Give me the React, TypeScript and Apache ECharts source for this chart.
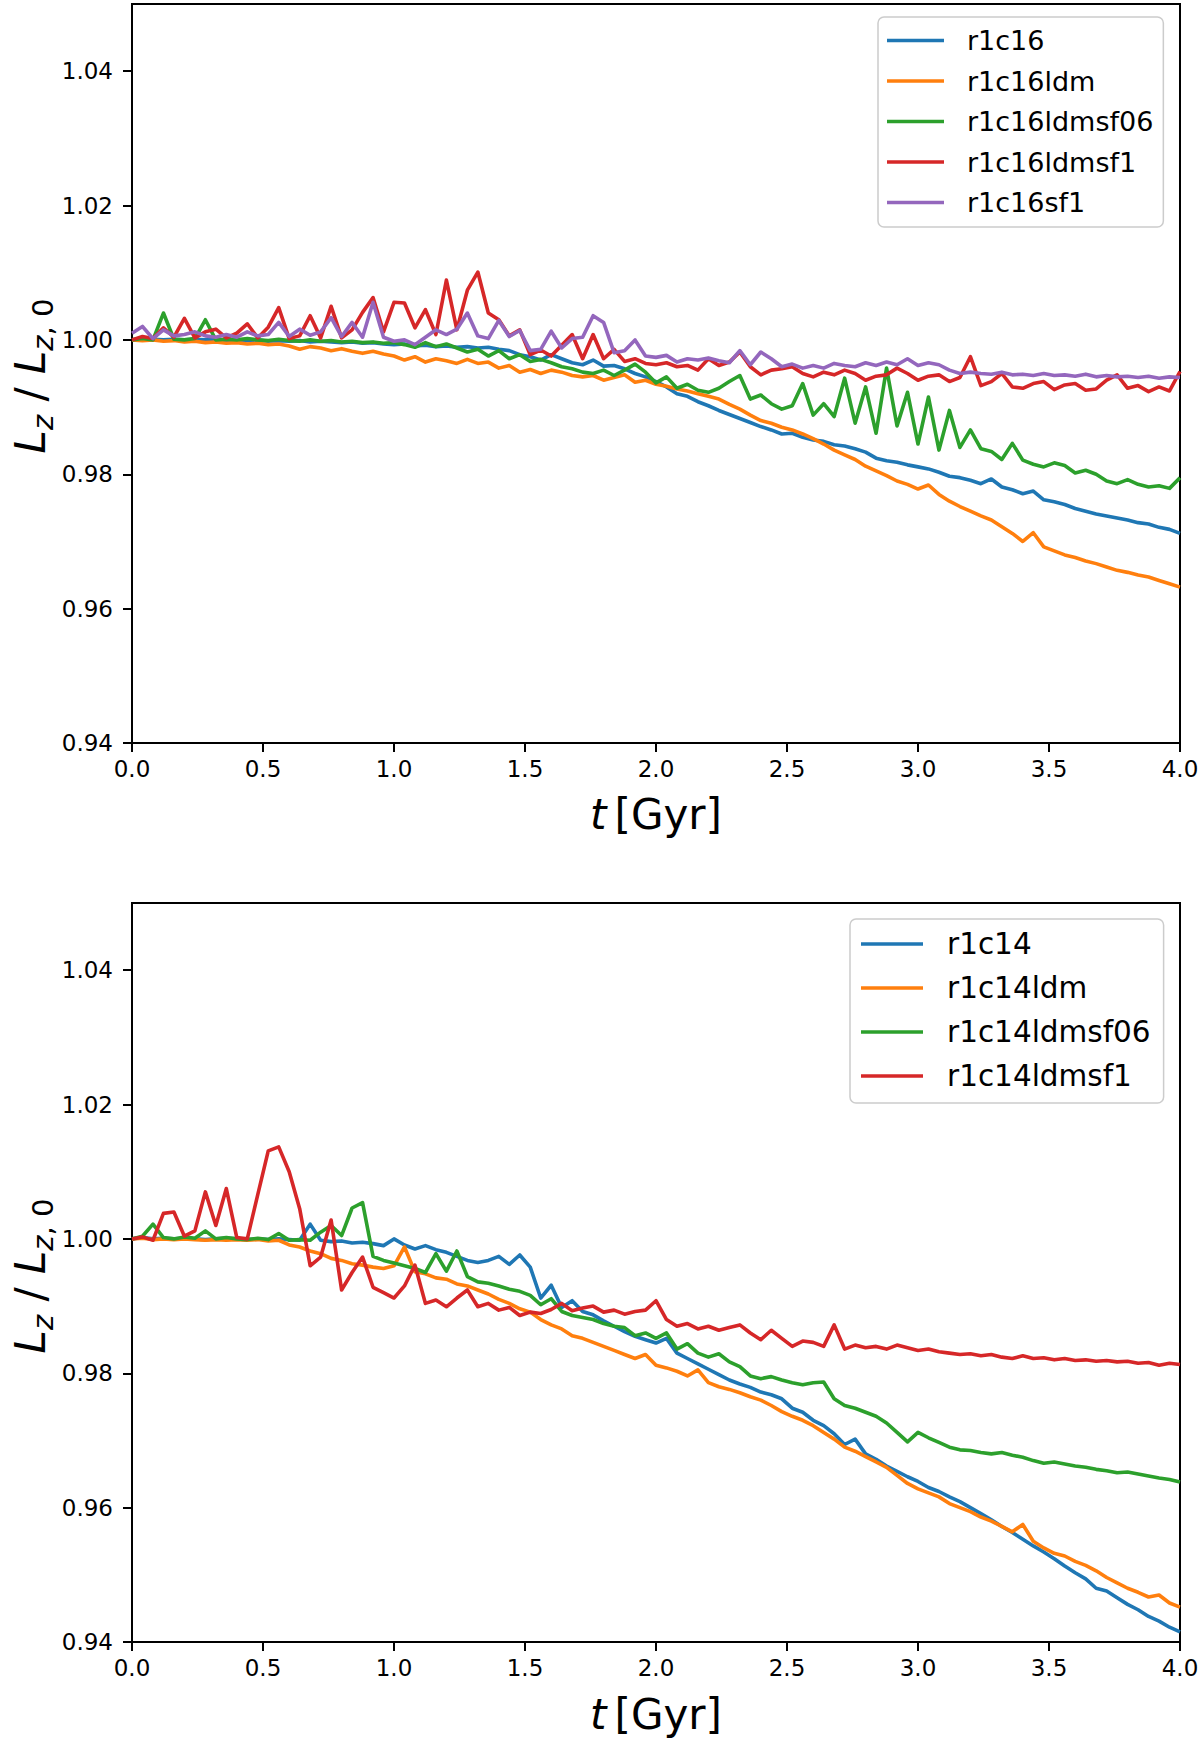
import React, { useEffect, useRef } from "react";
import * as echarts from "echarts";

const FONT = "DejaVu Sans";
const COLORS = ["#1f77b4", "#ff7f0e", "#2ca02c", "#d62728", "#9467bd"];

// sampling grid: t = 0, 0.04, ..., 4.00 Gyr
const TIMES: number[] = Array.from({ length: 101 }, (_, i) => Math.round(i * 4) / 100);

const X_TICKS = [0, 0.5, 1, 1.5, 2, 2.5, 3, 3.5, 4];
const Y_TICKS = [0.94, 0.96, 0.98, 1.0, 1.02, 1.04];

const TOP_NAMES = ["r1c16", "r1c16ldm", "r1c16ldmsf06", "r1c16ldmsf1", "r1c16sf1"];
const BOTTOM_NAMES = ["r1c14", "r1c14ldm", "r1c14ldmsf06", "r1c14ldmsf1"];

const r1c16 = [
  1.0000, 1.0002, 1.0001, 1.0000, 1.0001, 1.0000, 1.0001, 1.0000, 1.0000, 0.9999,
  1.0000, 0.9999, 1.0000, 0.9998, 0.9999, 0.9998, 0.9999, 0.9997, 0.9998, 0.9997,
  0.9996, 0.9997, 0.9995, 0.9996, 0.9994, 0.9993, 0.9994, 0.9991, 0.9992, 0.9990,
  0.9991, 0.9989, 0.9990, 0.9988, 0.9989, 0.9986, 0.9984, 0.9978, 0.9975, 0.9970,
  0.9978, 0.9972, 0.9966, 0.9963, 0.9970, 0.9961, 0.9962, 0.9957, 0.9950, 0.9945,
  0.9938, 0.9930, 0.9920, 0.9916, 0.9908, 0.9902, 0.9895, 0.9889, 0.9883, 0.9877,
  0.9871, 0.9866, 0.9860, 0.9861, 0.9855, 0.9851, 0.9849, 0.9844, 0.9842, 0.9838,
  0.9833, 0.9824, 0.9820, 0.9818, 0.9814, 0.9811, 0.9808, 0.9803, 0.9797, 0.9795,
  0.9791, 0.9786, 0.9793, 0.9781, 0.9777, 0.9771, 0.9775, 0.9762, 0.9759, 0.9755,
  0.9749, 0.9745, 0.9741, 0.9738, 0.9735, 0.9732, 0.9728, 0.9726, 0.9721, 0.9718,
  0.9712,
];
const r1c16ldm = [
  1.0000, 0.9999, 1.0000, 0.9998, 0.9999, 0.9997, 0.9998, 0.9996, 0.9997, 0.9995,
  0.9996, 0.9994, 0.9995, 0.9993, 0.9994, 0.9991, 0.9986, 0.9990, 0.9988, 0.9984,
  0.9987, 0.9983, 0.9980, 0.9983, 0.9979, 0.9976, 0.9970, 0.9975, 0.9967, 0.9972,
  0.9969, 0.9965, 0.9971, 0.9965, 0.9967, 0.9958, 0.9962, 0.9952, 0.9956, 0.9950,
  0.9955, 0.9952, 0.9947, 0.9945, 0.9947, 0.9940, 0.9944, 0.9948, 0.9937, 0.9940,
  0.9934, 0.9931, 0.9927, 0.9924, 0.9920, 0.9916, 0.9912, 0.9904, 0.9897, 0.9888,
  0.9880, 0.9876, 0.9870, 0.9866, 0.9860, 0.9853, 0.9845, 0.9836, 0.9829, 0.9822,
  0.9812, 0.9805, 0.9798, 0.9790, 0.9785, 0.9778, 0.9784, 0.9770, 0.9760, 0.9752,
  0.9745, 0.9738, 0.9732, 0.9722, 0.9712, 0.9700, 0.9713, 0.9692, 0.9686, 0.9680,
  0.9676, 0.9671, 0.9667, 0.9662, 0.9657, 0.9654, 0.9650, 0.9647, 0.9642, 0.9637,
  0.9632,
];
const r1c16ldmsf06 = [
  1.0000, 1.0002, 1.0000, 1.0040, 1.0001, 1.0000, 1.0002, 1.0030, 1.0000, 1.0001,
  1.0000, 1.0002, 1.0000, 0.9999, 1.0001, 0.9999, 0.9998, 1.0000, 0.9998, 0.9999,
  0.9997, 0.9998, 0.9996, 0.9997, 0.9995, 0.9996, 0.9993, 0.9989, 0.9996, 0.9990,
  0.9994, 0.9988, 0.9982, 0.9986, 0.9976, 0.9984, 0.9972, 0.9978, 0.9968, 0.9971,
  0.9966, 0.9960, 0.9957, 0.9952, 0.9950, 0.9955, 0.9947, 0.9955, 0.9964, 0.9952,
  0.9936, 0.9945, 0.9928, 0.9934, 0.9925, 0.9922, 0.9928, 0.9938, 0.9947, 0.9912,
  0.9918, 0.9905, 0.9897, 0.9902, 0.9935, 0.9888, 0.9905, 0.9886, 0.9943, 0.9876,
  0.9930, 0.9861, 0.9958, 0.9872, 0.9922, 0.9845, 0.9915, 0.9836, 0.9895, 0.9840,
  0.9866, 0.9838, 0.9834, 0.9822, 0.9846, 0.9821, 0.9815, 0.9811, 0.9817, 0.9813,
  0.9802, 0.9806, 0.9800, 0.9790, 0.9786, 0.9792, 0.9785, 0.9781, 0.9783, 0.9779,
  0.9795,
];
const r1c16ldmsf1 = [
  1.0000, 1.0005, 1.0002, 1.0018, 1.0004, 1.0032, 1.0003, 1.0012, 1.0016, 1.0003,
  1.0010, 1.0024, 1.0003, 1.0019, 1.0048, 1.0002, 1.0006, 1.0036, 1.0003, 1.0050,
  1.0003, 1.0015, 1.0041, 1.0063, 1.0012, 1.0056, 1.0055, 1.0018, 1.0045, 1.0008,
  1.0089, 1.0015, 1.0074, 1.0101, 1.0040, 1.0030, 1.0006, 1.0015, 0.9978, 0.9985,
  0.9976, 0.9992, 1.0008, 0.9972, 1.0008, 0.9972, 0.9986, 0.9968, 0.9972, 0.9965,
  0.9963, 0.9966, 0.9960, 0.9962, 0.9955, 0.9972, 0.9962, 0.9967, 0.9982, 0.9960,
  0.9948, 0.9955, 0.9957, 0.9960, 0.9950, 0.9945, 0.9952, 0.9948, 0.9955, 0.9950,
  0.9940, 0.9946, 0.9948, 0.9958, 0.9950, 0.9940, 0.9946, 0.9948, 0.9938, 0.9944,
  0.9975, 0.9932, 0.9938, 0.9950, 0.9930, 0.9928, 0.9935, 0.9938, 0.9926, 0.9933,
  0.9935, 0.9925, 0.9927, 0.9940, 0.9948, 0.9928, 0.9932, 0.9923, 0.9930, 0.9924,
  0.9953,
];
const r1c16sf1 = [
  1.0010, 1.0020, 1.0002, 1.0015, 1.0006, 1.0008, 1.0012, 1.0006, 1.0004, 1.0008,
  1.0004, 1.0012, 1.0006, 1.0008, 1.0026, 1.0005, 1.0016, 1.0007, 1.0012, 1.0033,
  1.0005, 1.0026, 1.0004, 1.0056, 1.0004, 0.9998, 1.0000, 0.9993, 1.0004, 1.0015,
  1.0008, 1.0016, 1.0040, 1.0006, 1.0002, 1.0029, 1.0005, 1.0014, 0.9984, 0.9986,
  1.0013, 0.9988, 1.0002, 1.0004, 1.0036, 1.0026, 0.9981, 0.9984, 1.0000, 0.9976,
  0.9974, 0.9977, 0.9967, 0.9972, 0.9970, 0.9973, 0.9969, 0.9966, 0.9984, 0.9963,
  0.9982, 0.9972, 0.9960, 0.9964, 0.9958, 0.9962, 0.9958, 0.9965, 0.9962, 0.9960,
  0.9966, 0.9962, 0.9967, 0.9963, 0.9972, 0.9962, 0.9966, 0.9963, 0.9955, 0.9950,
  0.9952, 0.9950, 0.9949, 0.9952, 0.9948, 0.9949, 0.9947, 0.9950, 0.9947, 0.9948,
  0.9946, 0.9949, 0.9945, 0.9947, 0.9945, 0.9946, 0.9944, 0.9946, 0.9943, 0.9945,
  0.9944,
];

const r1c14 = [
  1.0000, 1.0002, 1.0000, 1.0001, 1.0000, 1.0001, 1.0000, 0.9999, 1.0000, 1.0001,
  1.0000, 0.9999, 1.0000, 0.9999, 1.0000, 0.9999, 0.9998, 1.0022, 0.9998, 0.9996,
  0.9997, 0.9994, 0.9995, 0.9993, 0.9990, 1.0000, 0.9991, 0.9985, 0.9990, 0.9984,
  0.9980, 0.9974, 0.9968, 0.9965, 0.9968, 0.9974, 0.9962, 0.9976, 0.9958, 0.9912,
  0.9931, 0.9898, 0.9908, 0.9892, 0.9887, 0.9878, 0.9870, 0.9862, 0.9855, 0.9850,
  0.9845, 0.9852, 0.9830, 0.9822, 0.9814, 0.9806, 0.9798, 0.9790, 0.9784, 0.9779,
  0.9772, 0.9768, 0.9762, 0.9748, 0.9742, 0.9730, 0.9722, 0.9710, 0.9694, 0.9702,
  0.9680, 0.9672, 0.9662, 0.9654, 0.9646, 0.9639, 0.9630, 0.9624, 0.9616, 0.9609,
  0.9600, 0.9591, 0.9582, 0.9572, 0.9563, 0.9553, 0.9543, 0.9534, 0.9524, 0.9513,
  0.9503, 0.9494, 0.9480, 0.9476, 0.9466, 0.9456, 0.9448, 0.9438, 0.9431, 0.9422,
  0.9415,
];
const r1c14ldm = [
  1.0000, 1.0001, 0.9999, 1.0000, 0.9999, 1.0000, 0.9999, 0.9998, 0.9999, 0.9998,
  0.9999, 0.9998, 0.9999, 0.9997, 0.9998, 0.9991, 0.9988, 0.9982, 0.9978, 0.9971,
  0.9968, 0.9963, 0.9961, 0.9958, 0.9956, 0.9960, 0.9988, 0.9951, 0.9948, 0.9942,
  0.9940, 0.9933, 0.9930, 0.9924, 0.9918, 0.9910, 0.9904, 0.9896, 0.9891, 0.9880,
  0.9872, 0.9866, 0.9856, 0.9852, 0.9846, 0.9840, 0.9834, 0.9828, 0.9822, 0.9828,
  0.9812, 0.9808, 0.9803, 0.9796, 0.9805, 0.9786, 0.9780, 0.9776, 0.9771, 0.9765,
  0.9760, 0.9752, 0.9743, 0.9736, 0.9730, 0.9722, 0.9712, 0.9702, 0.9690, 0.9684,
  0.9676, 0.9668, 0.9660, 0.9648, 0.9636, 0.9628, 0.9622, 0.9616, 0.9606, 0.9600,
  0.9594, 0.9586, 0.9580, 0.9572, 0.9564, 0.9575, 0.9550, 0.9540, 0.9532, 0.9528,
  0.9520, 0.9514, 0.9506, 0.9496, 0.9488, 0.9480, 0.9474, 0.9467, 0.9470, 0.9458,
  0.9452,
];
const r1c14ldmsf06 = [
  1.0000, 1.0004, 1.0022, 1.0002, 1.0000, 1.0003, 1.0001, 1.0012, 1.0000, 1.0002,
  1.0000, 0.9999, 1.0001, 0.9999, 1.0008, 0.9998, 0.9999, 0.9998, 1.0010, 1.0020,
  1.0005, 1.0046, 1.0054, 0.9974, 0.9968, 0.9964, 0.9960, 0.9956, 0.9950, 0.9978,
  0.9952, 0.9982, 0.9944, 0.9936, 0.9934, 0.9930, 0.9925, 0.9922, 0.9916, 0.9902,
  0.9911, 0.9892, 0.9886, 0.9883, 0.9880, 0.9874, 0.9870, 0.9868, 0.9856, 0.9860,
  0.9852, 0.9860, 0.9836, 0.9844, 0.9830, 0.9824, 0.9829, 0.9817, 0.9810, 0.9796,
  0.9792, 0.9795, 0.9790, 0.9786, 0.9783, 0.9786, 0.9787, 0.9762, 0.9752, 0.9748,
  0.9742, 0.9736, 0.9726, 0.9712, 0.9698, 0.9712, 0.9704, 0.9697, 0.9690, 0.9686,
  0.9685, 0.9682, 0.9680, 0.9682, 0.9678, 0.9675, 0.9670, 0.9666, 0.9668, 0.9665,
  0.9662, 0.9660, 0.9657, 0.9655, 0.9652, 0.9653, 0.9650, 0.9647, 0.9644, 0.9642,
  0.9638,
];
const r1c14ldmsf1 = [
  1.0000, 1.0003, 0.9998, 1.0038, 1.0040, 1.0004, 1.0012, 1.0070, 1.0020, 1.0075,
  1.0002, 1.0000, 1.0066, 1.0131, 1.0137, 1.0100, 1.0045, 0.9960, 0.9973, 1.0028,
  0.9924, 0.9950, 0.9973, 0.9928, 0.9920, 0.9912, 0.9930, 0.9961, 0.9904, 0.9909,
  0.9899, 0.9912, 0.9924, 0.9899, 0.9904, 0.9894, 0.9898, 0.9886, 0.9891, 0.9889,
  0.9895, 0.9904, 0.9893, 0.9897, 0.9900, 0.9891, 0.9894, 0.9888, 0.9892, 0.9894,
  0.9908, 0.9880, 0.9870, 0.9874, 0.9866, 0.9870, 0.9864, 0.9868, 0.9872, 0.9860,
  0.9850, 0.9864, 0.9852, 0.9840, 0.9848, 0.9846, 0.9840, 0.9872, 0.9836, 0.9842,
  0.9838, 0.9840, 0.9836, 0.9842, 0.9838, 0.9834, 0.9836, 0.9832, 0.9830, 0.9828,
  0.9829, 0.9826, 0.9828, 0.9824, 0.9822, 0.9826, 0.9822, 0.9823, 0.9820, 0.9822,
  0.9819, 0.9820, 0.9818, 0.9819, 0.9817, 0.9818, 0.9815, 0.9816, 0.9812, 0.9815,
  0.9813,
];

const TOP_SERIES = [r1c16, r1c16ldm, r1c16ldmsf06, r1c16ldmsf1, r1c16sf1];
const BOTTOM_SERIES = [r1c14, r1c14ldm, r1c14ldmsf06, r1c14ldmsf1];

const GRID_TOPS = [4, 903];
const GRID_H = 739;
const LINE_W = 3.6;

function makeAxes(idx: number) {
  const xAxis = {
    type: "value",
    gridIndex: idx,
    min: 0,
    max: 4,
    interval: 0.5,
    axisLine: { show: true, onZero: false, lineStyle: { color: "#000", width: 2 } },
    axisTick: {
      show: true,
      inside: false,
      length: 9,
      customValues: X_TICKS,
      lineStyle: { color: "#000", width: 2 },
    },
    axisLabel: {
      show: true,
      margin: 14,
      color: "#000",
      fontSize: 23,
      fontFamily: FONT,
      customValues: X_TICKS,
      formatter: (v: number) => v.toFixed(1),
      showMinLabel: true,
      showMaxLabel: true,
    },
    splitLine: { show: false },
  };
  const yAxis = {
    type: "value",
    gridIndex: idx,
    min: 0.94,
    max: 1.05,
    interval: 0.02,
    axisLine: { show: true, onZero: false, lineStyle: { color: "#000", width: 2 } },
    axisTick: {
      show: true,
      inside: false,
      length: 9,
      customValues: Y_TICKS,
      lineStyle: { color: "#000", width: 2 },
    },
    axisLabel: {
      show: true,
      margin: 19,
      color: "#000",
      fontSize: 23,
      fontFamily: FONT,
      customValues: Y_TICKS,
      formatter: (v: number) => v.toFixed(2),
    },
    splitLine: { show: false },
  };
  return { xAxis, yAxis };
}

function yLabel(y: number) {
  return {
    type: "text",
    x: 30,
    y,
    rotation: Math.PI / 2,
    silent: true,
    style: {
      text: "{i|L}{s|z}{n| / }{i|L}{s|z}{u|, 0}",
      align: "center",
      verticalAlign: "middle",
      fill: "#000",
      fontFamily: FONT,
      rich: {
        i: { fontSize: 42, fontStyle: "italic", fontFamily: FONT, lineHeight: 42, verticalAlign: "top", fill: "#000" },
        n: { fontSize: 42, fontFamily: FONT, lineHeight: 42, verticalAlign: "top", fill: "#000" },
        s: { fontSize: 29, fontStyle: "italic", fontFamily: FONT, lineHeight: 29, verticalAlign: "top", padding: [19, 0, 0, 0], fill: "#000" },
        u: { fontSize: 29, fontFamily: FONT, lineHeight: 29, verticalAlign: "top", padding: [19, 0, 0, 0], fill: "#000" },
      },
    },
  };
}

function xLabel(y: number) {
  return {
    type: "text",
    x: 656,
    y,
    silent: true,
    style: {
      text: "{i|t}{n|[Gyr]}",
      align: "center",
      verticalAlign: "middle",
      fill: "#000",
      fontFamily: FONT,
      rich: {
        i: { fontSize: 42, fontStyle: "italic", fontFamily: FONT, lineHeight: 42, padding: [0, 8, 0, 0], fill: "#000" },
        n: { fontSize: 42, fontFamily: FONT, lineHeight: 42, fill: "#000" },
      },
    },
  };
}

export default function App() {
  const ref = useRef<HTMLDivElement>(null);

  useEffect(() => {
    if (!ref.current) return;
    const chart = echarts.init(ref.current, null, { renderer: "svg" });

    const a0 = makeAxes(0);
    const a1 = makeAxes(1);

    const makeSeries = (name: string, vals: number[], k: number, idx: number) => ({
      name,
      type: "line",
      xAxisIndex: idx,
      yAxisIndex: idx,
      data: TIMES.map((t, i) => [t, vals[i]]),
      symbol: "none",
      showSymbol: false,
      lineStyle: { width: LINE_W, color: COLORS[k], join: "round" },
      itemStyle: { color: COLORS[k] },
      emphasis: { disabled: true },
      silent: true,
    });

    const series: any[] = [
      ...TOP_SERIES.map((vals, k) => makeSeries(TOP_NAMES[k], vals, k, 0)),
      ...BOTTOM_SERIES.map((vals, k) => makeSeries(BOTTOM_NAMES[k], vals, k, 1)),
    ];

    const legendBase = {
      orient: "vertical",
      selectedMode: false,
      backgroundColor: "#ffffff",
      borderColor: "#cccccc",
      borderWidth: 1.5,
      borderRadius: 6,
      align: "left",
      // thin horizontal bar, kept at its aspect inside the icon box
      icon: "path://M0 0H60V3.6H0Z",
      itemStyle: { borderWidth: 0 },
    };

    chart.setOption({
      animation: false,
      backgroundColor: "#ffffff",
      textStyle: { fontFamily: FONT },
      grid: GRID_TOPS.map((top) => ({
        left: 132,
        top,
        width: 1048,
        height: GRID_H,
        show: true,
        borderColor: "#000",
        borderWidth: 2,
        backgroundColor: "transparent",
        containLabel: false,
        outerBoundsMode: "none",
      })),
      xAxis: [a0.xAxis, a1.xAxis],
      yAxis: [a0.yAxis, a1.yAxis],
      legend: [
        {
          ...legendBase,
          left: 878,
          top: 17,
          data: TOP_NAMES,
          itemWidth: 57,
          itemHeight: 27,
          itemGap: 13.5,
          padding: [10, 10, 11, 9],
          textStyle: { fontSize: 27, lineHeight: 27, fontFamily: FONT, color: "#000", padding: [0, 0, 0, 18] },
        },
        {
          ...legendBase,
          left: 850,
          top: 919,
          data: BOTTOM_NAMES,
          itemWidth: 62,
          itemHeight: 29.5,
          itemGap: 14,
          padding: [10, 13, 12, 11],
          textStyle: { fontSize: 29.5, lineHeight: 29.5, fontFamily: FONT, color: "#000", padding: [0, 0, 0, 19] },
        },
      ],
      graphic: [yLabel(376), yLabel(1276), xLabel(814), xLabel(1714)],
      series,
    });

    return () => chart.dispose();
  }, []);

  return (
    <div
      ref={ref}
      style={{ position: "absolute", left: 0, top: 0, width: 1200, height: 1743 }}
    />
  );
}
